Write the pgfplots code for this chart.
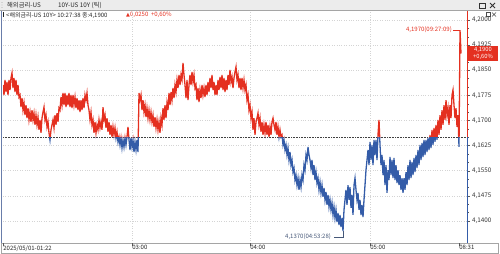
\documentclass[border=0pt]{standalone}
\usepackage{fontspec}
\setmainfont{Noto Sans CJK KR}
\newfontfamily\dejavu{DejaVu Sans}
\usepackage{pgfplots}
\usepackage{pgfplotstable}
\pgfplotsset{compat=1.18}
\definecolor{upred}{RGB}{228,48,32}
\definecolor{dnblue}{RGB}{52,92,168}
\definecolor{gridgray}{RGB}{212,212,212}
\definecolor{hdrgray}{RGB}{236,236,236}
\definecolor{framegray}{RGB}{165,165,165}
\definecolor{leftblue}{RGB}{105,125,170}
\definecolor{lowtxt}{RGB}{70,88,120}

\pgfplotstableread[row sep=\\]{
x y\\
3 4.1806\\ 4 4.1776\\ 5 4.1821\\ 6 4.1785\\ 7 4.1815\\ 8 4.1776\\ 9 4.1821\\ 10 4.1791\\ 11 4.1827\\ 12 4.1842\\
13 4.1797\\ 14 4.1827\\ 15 4.1785\\ 16 4.1821\\ 17 4.1776\\ 18 4.1806\\ 19 4.1770\\ 20 4.1776\\ 21 4.1740\\ 22 4.1767\\
23 4.1731\\ 24 4.1752\\ 25 4.1716\\ 26 4.1746\\ 27 4.1707\\ 28 4.1737\\ 29 4.1702\\ 30 4.1725\\ 31 4.1696\\ 32 4.1731\\
33 4.1702\\ 34 4.1722\\ 35 4.1687\\ 36 4.1716\\ 37 4.1687\\ 38 4.1710\\ 39 4.1672\\ 40 4.1702\\ 41 4.1663\\ 42 4.1707\\
43 4.1725\\ 44 4.1740\\ 45 4.1702\\ 46 4.1716\\ 47 4.1681\\ 48 4.1696\\ 49 4.1663\\ 50 4.1642\\ 51 4.1672\\ 52 4.1687\\
53 4.1702\\ 54 4.1678\\ 55 4.1716\\ 56 4.1687\\ 57 4.1722\\ 58 4.1696\\ 59 4.1737\\ 60 4.1731\\ 61 4.1770\\ 62 4.1746\\
63 4.1782\\ 64 4.1746\\ 65 4.1782\\ 66 4.1740\\ 67 4.1776\\ 68 4.1746\\ 69 4.1782\\ 70 4.1740\\ 71 4.1776\\ 72 4.1737\\
73 4.1776\\ 74 4.1746\\ 75 4.1770\\ 76 4.1737\\ 77 4.1767\\ 78 4.1731\\ 79 4.1761\\ 80 4.1725\\ 81 4.1761\\ 82 4.1731\\
83 4.1767\\ 84 4.1737\\ 85 4.1776\\ 86 4.1761\\ 87 4.1782\\ 88 4.1746\\ 89 4.1731\\ 90 4.1702\\ 91 4.1725\\ 92 4.1687\\
93 4.1702\\ 94 4.1663\\ 95 4.1696\\ 96 4.1663\\ 97 4.1687\\ 98 4.1672\\ 99 4.1702\\ 100 4.1678\\ 101 4.1696\\ 102 4.1672\\
103 4.1740\\ 104 4.1702\\ 105 4.1716\\ 106 4.1678\\ 107 4.1707\\ 108 4.1666\\ 109 4.1696\\ 110 4.1657\\ 111 4.1687\\ 112 4.1651\\
113 4.1681\\ 114 4.1657\\ 115 4.1678\\ 116 4.1648\\ 117 4.1666\\ 118 4.1636\\ 119 4.1651\\ 120 4.1627\\ 121 4.1648\\ 122 4.1618\\
123 4.1642\\ 124 4.1621\\ 125 4.1648\\ 126 4.1627\\ 127 4.1651\\ 128 4.1681\\ 129 4.1642\\ 130 4.1612\\ 131 4.1648\\ 132 4.1621\\
133 4.1642\\ 134 4.1606\\ 135 4.1636\\ 136 4.1612\\ 137 4.1642\\ 138 4.1606\\ 139 4.1782\\ 140 4.1761\\ 141 4.1776\\ 142 4.1731\\
143 4.1761\\ 144 4.1725\\ 145 4.1746\\ 146 4.1710\\ 147 4.1737\\ 148 4.1707\\ 149 4.1731\\ 150 4.1702\\ 151 4.1725\\ 152 4.1696\\
153 4.1716\\ 154 4.1681\\ 155 4.1710\\ 156 4.1678\\ 157 4.1702\\ 158 4.1672\\ 159 4.1696\\ 160 4.1663\\ 161 4.1707\\ 162 4.1687\\
163 4.1737\\ 164 4.1702\\ 165 4.1746\\ 166 4.1707\\ 167 4.1752\\ 168 4.1731\\ 169 4.1782\\ 170 4.1746\\ 171 4.1785\\ 172 4.1761\\
173 4.1797\\ 174 4.1767\\ 175 4.1806\\ 176 4.1785\\ 177 4.1821\\ 178 4.1797\\ 179 4.1836\\ 180 4.1806\\ 181 4.1836\\ 182 4.1821\\
183 4.1872\\ 184 4.1836\\ 185 4.1806\\ 186 4.1767\\ 187 4.1821\\ 188 4.1761\\ 189 4.1806\\ 190 4.1836\\ 191 4.1806\\ 192 4.1845\\
193 4.1815\\ 194 4.1836\\ 195 4.1797\\ 196 4.1806\\ 197 4.1761\\ 198 4.1797\\ 199 4.1755\\ 200 4.1791\\ 201 4.1767\\ 202 4.1806\\
203 4.1776\\ 204 4.1797\\ 205 4.1770\\ 206 4.1806\\ 207 4.1776\\ 208 4.1815\\ 209 4.1785\\ 210 4.1827\\ 211 4.1797\\ 212 4.1836\\
213 4.1791\\ 214 4.1815\\ 215 4.1776\\ 216 4.1806\\ 217 4.1776\\ 218 4.1821\\ 219 4.1791\\ 220 4.1830\\ 221 4.1797\\ 222 4.1836\\
223 4.1791\\ 224 4.1827\\ 225 4.1785\\ 226 4.1821\\ 227 4.1791\\ 228 4.1836\\ 229 4.1806\\ 230 4.1851\\ 231 4.1815\\ 232 4.1830\\
233 4.1797\\ 234 4.1827\\ 235 4.1845\\ 236 4.1860\\ 237 4.1821\\ 238 4.1836\\ 239 4.1797\\ 240 4.1827\\ 241 4.1791\\ 242 4.1827\\
243 4.1797\\ 244 4.1821\\ 245 4.1791\\ 246 4.1806\\ 247 4.1761\\ 248 4.1776\\ 249 4.1731\\ 250 4.1746\\ 251 4.1707\\ 252 4.1725\\
253 4.1672\\ 254 4.1707\\ 255 4.1657\\ 256 4.1696\\ 257 4.1707\\ 258 4.1722\\ 259 4.1687\\ 260 4.1707\\ 261 4.1666\\ 262 4.1696\\
263 4.1657\\ 264 4.1687\\ 265 4.1663\\ 266 4.1696\\ 267 4.1657\\ 268 4.1687\\ 269 4.1651\\ 270 4.1681\\ 271 4.1657\\ 272 4.1696\\
273 4.1707\\ 274 4.1687\\ 275 4.1672\\ 276 4.1696\\ 277 4.1657\\ 278 4.1681\\ 279 4.1651\\ 280 4.1672\\ 281 4.1651\\ 282 4.1657\\
283 4.1627\\ 284 4.1642\\ 285 4.1612\\ 286 4.1627\\ 287 4.1597\\ 288 4.1618\\ 289 4.1582\\ 290 4.1606\\ 291 4.1567\\ 292 4.1582\\
293 4.1546\\ 294 4.1558\\ 295 4.1522\\ 296 4.1537\\ 297 4.1507\\ 298 4.1528\\ 299 4.1493\\ 300 4.1522\\ 301 4.1501\\ 302 4.1537\\
303 4.1522\\ 304 4.1567\\ 305 4.1552\\ 306 4.1597\\ 307 4.1582\\ 308 4.1621\\ 309 4.1597\\ 310 4.1582\\ 311 4.1558\\ 312 4.1582\\
313 4.1537\\ 314 4.1567\\ 315 4.1522\\ 316 4.1546\\ 317 4.1513\\ 318 4.1528\\ 319 4.1493\\ 320 4.1516\\ 321 4.1484\\ 322 4.1507\\
323 4.1472\\ 324 4.1499\\ 325 4.1463\\ 326 4.1487\\ 327 4.1448\\ 328 4.1478\\ 329 4.1442\\ 330 4.1463\\ 331 4.1433\\ 332 4.1454\\
333 4.1418\\ 334 4.1442\\ 335 4.1409\\ 336 4.1433\\ 337 4.1397\\ 338 4.1424\\ 339 4.1388\\ 340 4.1418\\ 341 4.1382\\ 342 4.1409\\
343 4.1370\\ 344 4.1433\\ 345 4.1463\\ 346 4.1493\\ 347 4.1448\\ 348 4.1507\\ 349 4.1463\\ 350 4.1501\\ 351 4.1439\\ 352 4.1478\\
353 4.1418\\ 354 4.1507\\ 355 4.1528\\ 356 4.1493\\ 357 4.1463\\ 358 4.1484\\ 359 4.1433\\ 360 4.1463\\ 361 4.1418\\ 362 4.1448\\
363 4.1412\\ 364 4.1463\\ 365 4.1507\\ 366 4.1552\\ 367 4.1582\\ 368 4.1612\\ 369 4.1567\\ 370 4.1636\\ 371 4.1582\\ 372 4.1627\\
373 4.1567\\ 374 4.1642\\ 375 4.1597\\ 376 4.1642\\ 377 4.1582\\ 378 4.1657\\ 379 4.1702\\ 380 4.1627\\ 381 4.1567\\ 382 4.1597\\
383 4.1537\\ 384 4.1582\\ 385 4.1507\\ 386 4.1567\\ 387 4.1484\\ 388 4.1552\\ 389 4.1522\\ 390 4.1591\\ 391 4.1537\\ 392 4.1582\\
393 4.1528\\ 394 4.1588\\ 395 4.1522\\ 396 4.1567\\ 397 4.1513\\ 398 4.1552\\ 399 4.1507\\ 400 4.1537\\ 401 4.1493\\ 402 4.1528\\
403 4.1484\\ 404 4.1528\\ 405 4.1493\\ 406 4.1546\\ 407 4.1507\\ 408 4.1567\\ 409 4.1522\\ 410 4.1582\\ 411 4.1528\\ 412 4.1576\\
413 4.1537\\ 414 4.1588\\ 415 4.1546\\ 416 4.1597\\ 417 4.1558\\ 418 4.1612\\ 419 4.1567\\ 420 4.1627\\ 421 4.1582\\ 422 4.1633\\
423 4.1591\\ 424 4.1642\\ 425 4.1597\\ 426 4.1642\\ 427 4.1606\\ 428 4.1648\\ 429 4.1612\\ 430 4.1657\\ 431 4.1618\\ 432 4.1672\\
433 4.1627\\ 434 4.1678\\ 435 4.1636\\ 436 4.1687\\ 437 4.1642\\ 438 4.1702\\ 439 4.1657\\ 440 4.1716\\ 441 4.1672\\ 442 4.1731\\
443 4.1687\\ 444 4.1746\\ 445 4.1702\\ 446 4.1761\\ 447 4.1716\\ 448 4.1737\\ 449 4.1687\\ 450 4.1746\\ 451 4.1707\\ 452 4.1776\\
453 4.1791\\ 454 4.1746\\ 455 4.1707\\ 456 4.1737\\ 457 4.1681\\ 458 4.1716\\ 459 4.1621\\ 460 4.1970\\ 461 4.1900\\
}\ticks

\begin{document}
\begin{tikzpicture}
\useasboundingbox (0pt,0pt) rectangle (500pt,-254pt);
\begin{scope}[x=1pt,y=-1pt]
  % header band
  \fill[hdrgray] (0,0) rectangle (500,10.5);
  \draw[framegray,line width=0.5pt] (0,10.5) -- (500,10.5);
  \foreach \yy in {2.5,5,7.5} \fill[black!50] (2,\yy) circle (0.45);
  \node[anchor=west,inner sep=0pt,font=\fontsize{6.3}{7}\selectfont,text=black!85] at (7,5.4) {해외금리-US};
  \node[anchor=west,inner sep=0pt,font=\fontsize{6.3}{7}\selectfont,text=black!85] at (58,5.4) {10Y-US 10Y (틱)};
  \draw[black!80,line width=0.6pt] (479.5,3) rectangle (485,8);
  \draw[black!80,line width=0.8pt] (490,3) -- (495,8) (490,8) -- (495,3);
  % second row
  \fill[black!85] (2.5,12.5) rectangle (4,17.5);
  \node[anchor=west,inner sep=0pt,font=\fontsize{6}{7}\selectfont,text=black!85] at (6,15.2) {<해외금리-US 10Y> 10:27:38 종:4,1900};
  \node[anchor=west,inner sep=0pt,font=\fontsize{6}{7}\selectfont,text=upred] at (126,15.2) {{\dejavu\fontsize{5}{6}\selectfont ▲}0,0250 \ +0,60\%};
  \draw[black!70,line width=0.4pt] (486,12.5) rectangle (490,16.5);
  \draw[black!70,line width=0.5pt] (492,12.5) -- (496,16.5) (492,16.5) -- (496,12.5);
  % bottom strip
  \fill[white] (1.5,243) rectangle (498.5,253);
  \draw[framegray,line width=0.6pt] (1.5,243) rectangle (498.5,253);
\end{scope}
\begin{axis}[
  at={(3pt,-243pt)}, anchor=south west,
  scale only axis, width=464pt, height=231pt,
  xmin=3, xmax=467, ymin=4.13343, ymax=4.20239,
  axis line style={draw=none},
  xtick={132,250,370}, xticklabels={03:00,04:00,05:00},
  extra x ticks={3,459}, extra x tick labels={2025/05/01-01:22,08:31},
  extra x tick style={grid=none},
  ytick={4.14,4.1475,4.155,4.1625,4.17,4.1775,4.185,4.1925,4.2},
  minor y tick num=2,
  xmajorgrids, ymajorgrids,
  grid style={gridgray, dotted, line width=0.5pt},
  xtick pos=bottom, ytick pos=right,
  tick align=outside,
  major tick length=3pt, minor tick length=1.6pt,
  tick style={draw=black!65, line width=0.4pt},
  scaled y ticks=false,
  yticklabel style={font=\fontsize{6.3}{7}\selectfont, text=black!80, anchor=west, xshift=-1.5pt,
    /pgf/number format/.cd, fixed, fixed zerofill, precision=4, use comma, assume math mode=true},
  xticklabel style={font=\fontsize{6}{7}\selectfont, text=black!85, anchor=north west, inner sep=0.5pt, xshift=-0.3pt, yshift=1.2pt},
  clip=true,
]
\addplot[densely dotted, black!75, line width=0.6pt] coordinates {(3,4.165) (467,4.165)};
\begin{scope}
  \clip (axis cs:3,4.165) rectangle (axis cs:467,4.21);
  \addplot[upred, line width=1.3pt] table {\ticks};
\end{scope}
\begin{scope}
  \clip (axis cs:3,4.165) rectangle (axis cs:467,4.12);
  \addplot[dnblue, line width=1.3pt] table {\ticks};
\end{scope}
\end{axis}
\begin{scope}[x=1pt,y=-1pt]
  % left frame line
  \draw[leftblue,line width=1.2pt] (1.2,11) -- (1.2,243);
  % right axis line coloured by prev close
  \draw[upred,line width=0.9pt] (467,11) -- (467,137);
  \draw[dnblue,line width=0.9pt] (467,137) -- (467,243);
  % current price box
  \fill[upred] (468,46.5) rectangle (498,61);
  \node[inner sep=0pt,font=\fontsize{5.8}{6}\selectfont,text=white] at (483,50.3) {4,1900};
  \node[inner sep=0pt,font=\fontsize{5.8}{6}\selectfont,text=white] at (483,57.2) {+0,60\%};
  % annotations
  \node[anchor=east,inner sep=0pt,font=\fontsize{6}{7}\selectfont,text=upred] at (452,30) {4,1970(09:27:09)};
  \draw[upred,line width=0.5pt] (453,30) -- (460,30);
  \node[anchor=west,inner sep=0pt,font=\fontsize{6}{7}\selectfont,text=lowtxt] at (285,237) {4,1370(04:53:28)};
  \draw[lowtxt,line width=0.5pt] (334,237) -- (343,237) -- (343,231);
\end{scope}
\end{tikzpicture}
\end{document}
